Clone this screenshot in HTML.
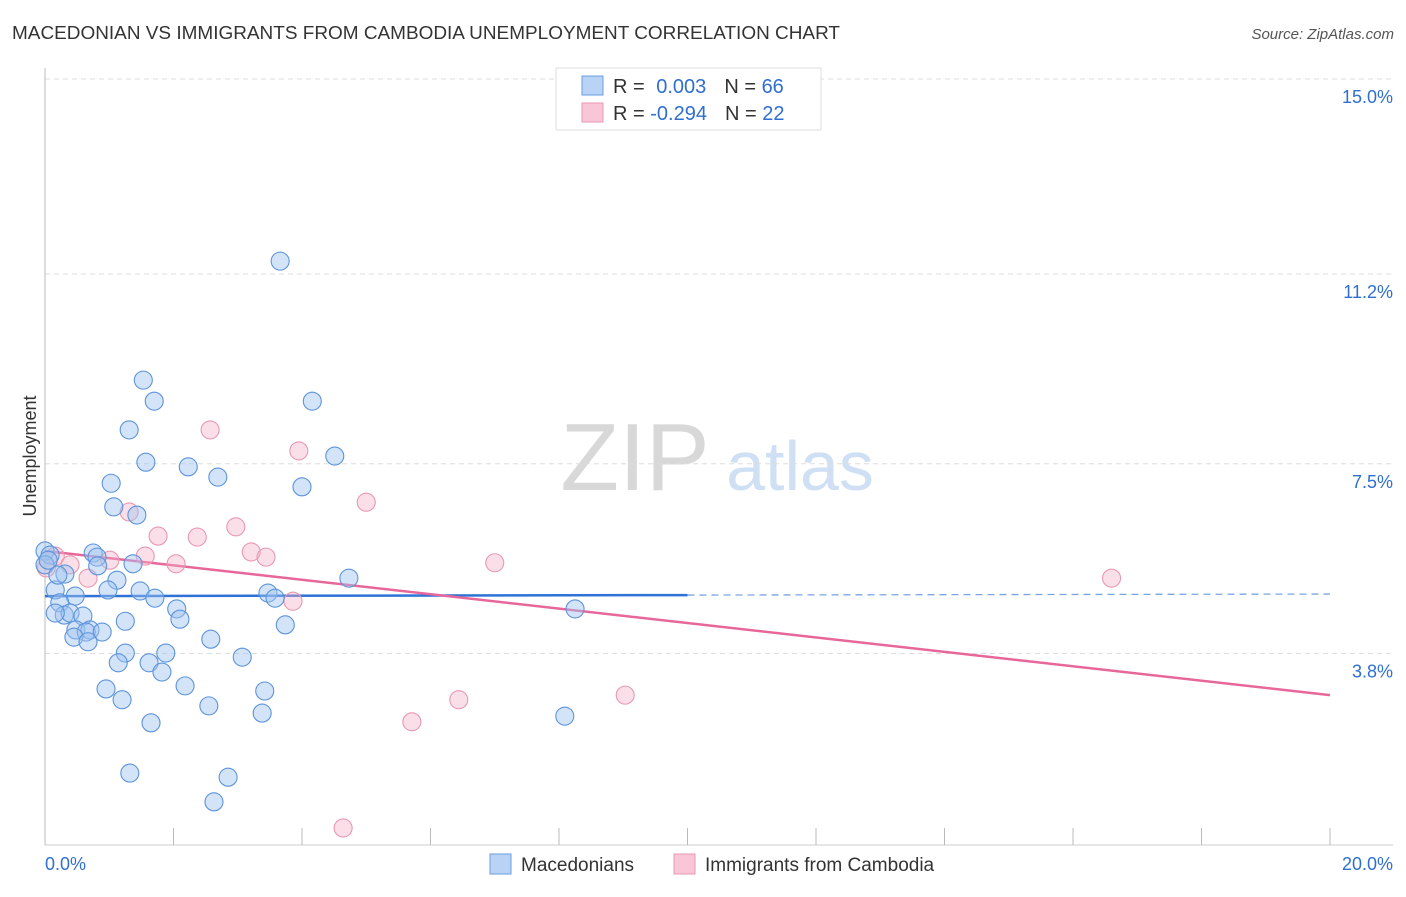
<!DOCTYPE html>
<html><head><meta charset="utf-8"><style>
body{margin:0;background:#fff;font-family:"Liberation Sans",sans-serif}
svg text{font-family:"Liberation Sans",sans-serif}
</style></head><body>
<svg width="1406" height="892" id="c">
<text x="12" y="39" font-size="18" fill="#333" textLength="828" lengthAdjust="spacingAndGlyphs">MACEDONIAN VS IMMIGRANTS FROM CAMBODIA UNEMPLOYMENT CORRELATION CHART</text>
<text x="1394" y="39" font-size="15" fill="#555" text-anchor="end" font-style="italic">Source: ZipAtlas.com</text>
<g>
<text x="635" y="490" font-size="96" fill="#d8d8d8" font-family="Liberation Serif" text-anchor="middle">ZIP</text>
<text x="800" y="490" font-size="70" fill="#cfe0f5" text-anchor="middle">atlas</text>
</g>
<g id="grid"></g><g id="axes"></g><g id="lines"></g><g id="pts"></g>
<text x="36" y="456" font-size="18" fill="#333" text-anchor="middle" transform="rotate(-90 36 456)">Unemployment</text>
<g>
<rect x="556" y="68" width="265" height="62" fill="#fff" stroke="#ddd"/>
<rect x="582" y="76" width="21" height="19" fill="#b8d3f6" stroke="#6a9ee0"/>
<rect x="582" y="103" width="21" height="19" fill="#f8c6d6" stroke="#e898b0"/>
<text x="613" y="93" font-size="20" fill="#333">R = <tspan fill="#2f6fd0" dx="6">0.003</tspan><tspan dx="18" fill="#333">N = </tspan><tspan fill="#2f6fd0">66</tspan></text>
<text x="613" y="120" font-size="20" fill="#333">R = <tspan fill="#2f6fd0">-0.294</tspan><tspan dx="18" fill="#333">N = </tspan><tspan fill="#2f6fd0">22</tspan></text>
</g>
<g>
<rect x="490" y="854" width="21" height="20" fill="#b8d3f6" stroke="#6a9ee0"/>
<text x="521" y="871" font-size="19" fill="#333">Macedonians</text>
<rect x="674" y="854" width="21" height="20" fill="#f8c6d6" stroke="#e898b0"/>
<text x="705" y="871" font-size="19" fill="#333">Immigrants from Cambodia</text>
</g>
</svg>
<script>
const yTicks=[15.0,11.2,7.5,3.8];
const yTickLabels=["15.0%","11.2%","7.5%","3.8%"];
const xTickLabels=["0.0%","20.0%"];
const blueX=[3.66,1.53,1.7,4.16,1.31,4.51,1.57,2.23,2.69,1.03,4.0,1.07,1.43,0,0.08,0.75,0.81,0.82,1.37,0,0.31,1.12,4.73,0.16,0.47,0.98,1.48,1.71,3.47,3.58,0.23,0.3,0.39,0.16,0.59,8.25,2.05,2.1,1.25,0.48,0.7,0.64,0.89,0.45,0.67,2.58,3.74,1.88,1.25,1.14,1.62,3.07,1.82,2.18,0.95,3.42,1.2,2.55,3.38,8.09,1.65,1.32,2.85,2.63,0.2,0.05];
const blueY=[11.45,9.13,8.72,8.72,8.16,7.65,7.53,7.44,7.24,7.12,7.05,6.66,6.5,5.8,5.72,5.76,5.68,5.51,5.55,5.53,5.35,5.23,5.27,5.04,4.92,5.04,5.02,4.88,4.98,4.88,4.79,4.55,4.59,4.59,4.53,4.67,4.67,4.47,4.43,4.26,4.26,4.22,4.22,4.12,4.03,4.08,4.36,3.81,3.81,3.62,3.62,3.73,3.44,3.17,3.11,3.07,2.9,2.78,2.64,2.58,2.45,1.47,1.39,0.91,5.33,5.62];
const pinkX=[0.02,0.16,0.39,0.67,1.01,1.31,1.56,1.76,2.04,2.37,2.57,2.97,3.21,3.44,3.86,3.95,5.0,5.71,6.44,7.0,9.03,4.64,16.6];
const pinkY=[5.47,5.7,5.53,5.27,5.62,6.56,5.7,6.09,5.55,6.07,8.16,6.27,5.78,5.68,4.82,7.75,6.75,2.47,2.9,5.57,2.99,0.4,5.27];
const blueTrend=[4.92,4.96];
const pinkTrend=[5.8,2.99];
const NS="http://www.w3.org/2000/svg";
const X=v=>45+v*64.25, Y=v=>79+(15-v)*51.3;
function mk(p,t,a){const e=document.createElementNS(NS,t);for(const k in a)e.setAttribute(k,a[k]);document.getElementById(p).appendChild(e);return e;}
yTicks.forEach((t,i)=>{
 const l=mk('grid','line',{x1:45,x2:1393,y1:Y(t),y2:Y(t),stroke:'#ddd','stroke-dasharray':'5,4'});
 
 
 const tx=mk('grid','text',{x:1393,y:Y(t)+24,'font-size':18,fill:'#2f6fd0','text-anchor':'end'});
 tx.textContent=yTickLabels[i];
 
 
});
let ax=mk('axes','line',{x1:45,x2:45,y1:68,y2:845,stroke:'#bbb'});


ax=mk('axes','line',{x1:45,x2:1393,y1:845,y2:845,stroke:'#ccc'});


for(let i=0;i<=10;i++){const t=mk('axes','line',{x1:X(i*2),x2:X(i*2),y1:828,y2:845,stroke:'#bbb'});
 
 }
[[0,'start',45],[20,'end',1393]].forEach((d,i)=>{const t=mk('axes','text',{x:d[2],y:870,'font-size':18,fill:'#2f6fd0','text-anchor':d[1]});t.textContent=xTickLabels[i];
 
 });
function pt(x,y,f,s,n){const c=mk('pts','circle',{cx:X(x),cy:Y(y),r:9,fill:f,stroke:s,'stroke-width':1.1});
 
 }
pinkX.forEach((x,i)=>pt(x,pinkY[i],'rgba(244,175,198,0.4)','#e898b0','cambodia-point'));
blueX.forEach((x,i)=>pt(x,blueY[i],'rgba(160,196,240,0.45)','#5c93dc','macedonian-point'));
const bm=blueTrend[0]+(blueTrend[1]-blueTrend[0])*0.5;
let l=mk('lines','line',{x1:X(0),y1:Y(blueTrend[0]),x2:X(10),y2:Y(bm),stroke:'#2f72d6','stroke-width':2.5});


l=mk('lines','line',{x1:X(10),y1:Y(bm),x2:X(20),y2:Y(blueTrend[1]),stroke:'#7aa6e0','stroke-width':1.3,'stroke-dasharray':'7,5'});


l=mk('lines','line',{x1:X(0),y1:Y(pinkTrend[0]),x2:X(20),y2:Y(pinkTrend[1]),stroke:'#e8679a','stroke-width':2.5});


</script>
</body></html>
